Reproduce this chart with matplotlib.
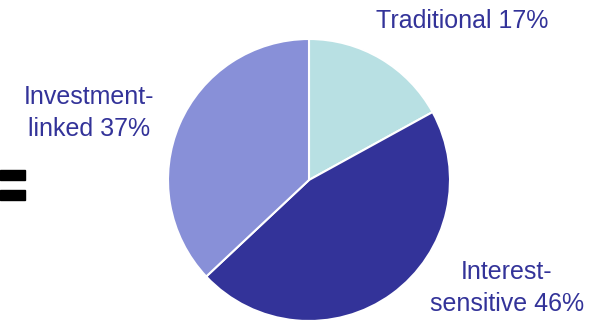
import matplotlib
matplotlib.use('Agg')
import matplotlib.pyplot as plt
import matplotlib.patches as mpatches

labels = ['Traditional 17%', 'Interest-\nsensitive 46%', 'Investment-\nlinked 37%']
shares = [17, 46, 37]
colors = ['#b8e0e3', '#333399', '#8890d8']
text_color = '#333399'

plt.rcParams['font.family'] = ['Liberation Sans', 'DejaVu Sans']

fig = plt.figure(figsize=(5.96, 3.2), dpi=100)
ax = fig.add_axes([0, 0, 1, 1])

# pie, clockwise from 12 o'clock
ax.pie(shares, colors=colors, startangle=90, counterclock=False,
       center=(309, 140), radius=141,
       wedgeprops=dict(edgecolor='white', linewidth=1.5), frame=True)
ax.set_xlim(0, 596)
ax.set_ylim(0, 320)
ax.set_aspect('equal')
ax.axis('off')

# slice labels
ax.text(376, 292, labels[0], fontsize=18, color=text_color, ha='left', va='baseline')
ax.text(507, 32, labels[1], fontsize=18, color=text_color, ha='center', va='center',
        multialignment='center', linespacing=1.38)
ax.text(89, 207, labels[2], fontsize=18, color=text_color, ha='center', va='center',
        multialignment='center', linespacing=1.38)

# the "=" sign on the left edge
ax.add_patch(mpatches.Rectangle((0, 140), 25, 10, color='black'))
ax.add_patch(mpatches.Rectangle((0, 120), 25, 10, color='black'))

fig.savefig('out.png', dpi=100)
